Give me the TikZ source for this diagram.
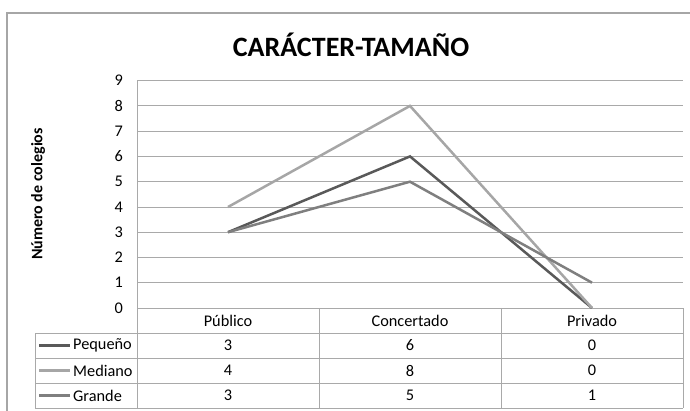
\documentclass[tikz,border=0pt]{standalone}
\usepackage{fontspec}
\setmainfont{Carlito}
\usepackage{tikz}
\usetikzlibrary{positioning}
\definecolor{gridgray}{HTML}{A9A9A9}
\definecolor{framegray}{HTML}{A6A6A6}
\definecolor{pcolor}{HTML}{595959}
\definecolor{mcolor}{HTML}{A6A6A6}
\definecolor{gcolor}{HTML}{7F7F7F}

\begin{document}
\begin{tikzpicture}[
  x=1pt, y=-1pt,
  gridline/.style={draw=gridgray, line width=0.9pt},
  serie/.style={line width=2.5pt, line join=miter},
  pserie/.style={serie, draw=pcolor},
  mserie/.style={serie, draw=mcolor},
  gserie/.style={serie, draw=gcolor},
  lbl/.style={font=\fontsize{16.3}{19}\selectfont, inner sep=0pt}
]
\useasboundingbox (0,0) rectangle (690,411);

% outer frame
\draw[draw=framegray, line width=2pt] (7,411) -- (7,13) -- (690,13);

\node[font=\bfseries\fontsize{28}{31}\selectfont, anchor=base] (title) at (351,57) {CARÁCTER-TAMAÑO};
\node[font=\bfseries\fontsize{16}{19}\selectfont, rotate=90] (ytitle) at (38,194) {Número de colegios};

% gridlines
\draw[gridline] (137,80.7) -- (683,80.7);
\draw[gridline] (137,105.9) -- (683,105.9);
\draw[gridline] (137,131.2) -- (683,131.2);
\draw[gridline] (137,156.4) -- (683,156.4);
\draw[gridline] (137,181.7) -- (683,181.7);
\draw[gridline] (137,207.0) -- (683,207.0);
\draw[gridline] (137,232.2) -- (683,232.2);
\draw[gridline] (137,257.5) -- (683,257.5);
\draw[gridline] (137,282.7) -- (683,282.7);
\draw[gridline] (137,308) -- (683,308);

\node[lbl, anchor=east] (y9) at (123,80.7) {9};
\node[lbl, anchor=east] (y8) at (123,105.9) {8};
\node[lbl, anchor=east] (y7) at (123,131.2) {7};
\node[lbl, anchor=east] (y6) at (123,156.4) {6};
\node[lbl, anchor=east] (y5) at (123,181.7) {5};
\node[lbl, anchor=east] (y4) at (123,207.0) {4};
\node[lbl, anchor=east] (y3) at (123,232.2) {3};
\node[lbl, anchor=east] (y2) at (123,257.5) {2};
\node[lbl, anchor=east] (y1) at (123,282.7) {1};
\node[lbl, anchor=east] (y0) at (123,308) {0};

% data table
\draw[gridline] (35,333) -- (683,333);
\draw[gridline] (35,358) -- (683,358);
\draw[gridline] (35,383) -- (683,383);
\draw[gridline] (35,408) -- (683,408);
\draw[gridline] (35,333) -- (35,408);
\draw[gridline] (137,80.7) -- (137,408);
\draw[gridline] (319,308) -- (319,408);
\draw[gridline] (501,308) -- (501,408);
\draw[gridline] (683,308) -- (683,408);

\node[lbl] (cpub) at (228,321) {Público};
\node[lbl] (ccon) at (410,321) {Concertado};
\node[lbl] (cpri) at (592,321) {Privado};

\coordinate (kp1) at (39,345.5);
\coordinate (kp2) at (70,345.5);
\coordinate (km1) at (39,370.5);
\coordinate (km2) at (70,370.5);
\coordinate (kg1) at (39,395.5);
\coordinate (kg2) at (70,395.5);
\draw[pserie] (kp1) -- (kp2);
\draw[mserie] (km1) -- (km2);
\draw[gserie] (kg1) -- (kg2);
\node[lbl, right=3pt of kp2] (lp) {Pequeño};
\node[lbl, right=3pt of km2] (lm) {Mediano};
\node[lbl, right=3pt of kg2] (lg) {Grande};

\node[lbl] (vp1) at (228,345.5) {3};
\node[lbl] (vp2) at (410,345.5) {6};
\node[lbl] (vp3) at (592,345.5) {0};
\node[lbl] (vm1) at (228,370.5) {4};
\node[lbl] (vm2) at (410,370.5) {8};
\node[lbl] (vm3) at (592,370.5) {0};
\node[lbl] (vg1) at (228,395.5) {3};
\node[lbl] (vg2) at (410,395.5) {5};
\node[lbl] (vg3) at (592,395.5) {1};

% series
\coordinate (p1) at (228,232.2);
\coordinate (p2) at (410,156.4);
\coordinate (p3) at (592,308);
\coordinate (m1) at (228,207.0);
\coordinate (m2) at (410,105.9);
\coordinate (m3) at (592,308);
\coordinate (g1) at (228,232.2);
\coordinate (g2) at (410,181.7);
\coordinate (g3) at (592,282.7);

\draw[pserie] (p1) -- (p2) -- (p3);
\draw[mserie] (m1) -- (m2) -- (m3);
\draw[gserie] (g1) -- (g2) -- (g3);

\end{tikzpicture}
\end{document}
